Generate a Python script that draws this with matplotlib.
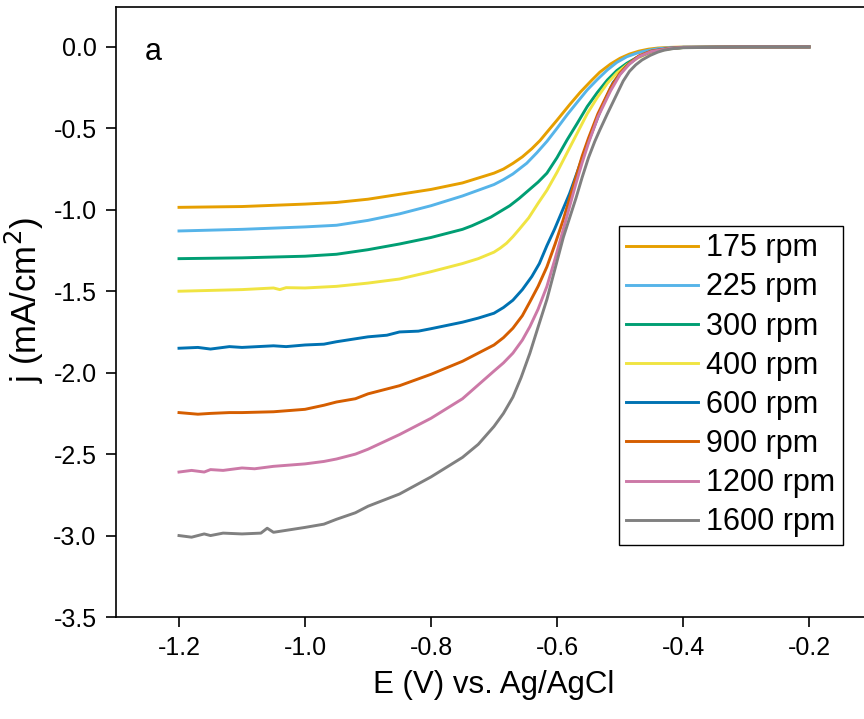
import matplotlib
matplotlib.use('Agg')
import matplotlib.pyplot as plt

plt.rcParams['font.family'] = ['Liberation Sans', 'DejaVu Sans']

# ---- data (E in V vs. Ag/AgCl, j in mA/cm2) ----
labels = ['175 rpm', '225 rpm', '300 rpm', '400 rpm',
          '600 rpm', '900 rpm', '1200 rpm', '1600 rpm']
colors = ['#E69F00', '#56B4E9', '#009E73', '#F0E442',
          '#0072B2', '#D55E00', '#CC79A7', '#808080']

e_175 = [-1.2, -1.1, -1.0, -0.95, -0.9, -0.85, -0.8, -0.775, -0.75, -0.725,
         -0.7, -0.685, -0.67, -0.655, -0.64, -0.627, -0.613, -0.6, -0.58,
         -0.563, -0.545, -0.532, -0.515, -0.5, -0.485, -0.47, -0.455, -0.44,
         -0.42, -0.4, -0.3, -0.2]
j_175 = [-0.985, -0.98, -0.965, -0.955, -0.935, -0.905, -0.875, -0.855, -0.835,
         -0.805, -0.775, -0.75, -0.715, -0.675, -0.625, -0.575, -0.51, -0.45,
         -0.355, -0.278, -0.205, -0.155, -0.105, -0.07, -0.044, -0.026, -0.014,
         -0.007, -0.003, -0.001, 0.0, 0.0]

e_225 = [-1.2, -1.1, -1.0, -0.95, -0.9, -0.85, -0.8, -0.775, -0.75, -0.725,
         -0.7, -0.685, -0.67, -0.66, -0.648, -0.632, -0.616, -0.6, -0.584,
         -0.568, -0.552, -0.536, -0.52, -0.505, -0.489, -0.473, -0.457, -0.44,
         -0.42, -0.4, -0.3, -0.2]
j_225 = [-1.13, -1.12, -1.105, -1.095, -1.065, -1.025, -0.975, -0.945, -0.915,
         -0.88, -0.845, -0.815, -0.78, -0.75, -0.714, -0.65, -0.58, -0.5,
         -0.417, -0.34, -0.264, -0.2, -0.141, -0.095, -0.06, -0.038, -0.022,
         -0.011, -0.005, -0.002, 0.0, 0.0]

e_300 = [-1.2, -1.1, -1.0, -0.95, -0.9, -0.85, -0.8, -0.775, -0.75, -0.735,
         -0.72, -0.705, -0.69, -0.675, -0.66, -0.645, -0.63, -0.616, -0.6,
         -0.584, -0.568, -0.552, -0.536, -0.52, -0.505, -0.489, -0.473, -0.457,
         -0.44, -0.425, -0.4, -0.3, -0.2]
j_300 = [-1.3, -1.295, -1.285, -1.273, -1.245, -1.21, -1.17, -1.145, -1.12,
         -1.098, -1.072, -1.045, -1.01, -0.975, -0.93, -0.88, -0.83, -0.775,
         -0.68, -0.571, -0.47, -0.366, -0.28, -0.203, -0.145, -0.1, -0.065,
         -0.039, -0.022, -0.012, -0.004, 0.0, 0.0]

e_400 = [-1.2, -1.15, -1.1, -1.05, -1.04, -1.03, -1.0, -0.95, -0.9, -0.85,
         -0.8, -0.75, -0.725, -0.7, -0.69, -0.68, -0.67, -0.66, -0.645, -0.63,
         -0.616, -0.6, -0.584, -0.568, -0.552, -0.536, -0.52, -0.505, -0.489,
         -0.473, -0.457, -0.44, -0.42, -0.4, -0.3, -0.2]
j_400 = [-1.5, -1.495, -1.49, -1.48, -1.49, -1.478, -1.48, -1.47, -1.45,
         -1.425, -1.38, -1.33, -1.3, -1.26, -1.235, -1.205, -1.165, -1.12,
         -1.05, -0.96, -0.88, -0.77, -0.65, -0.53, -0.41, -0.31, -0.223,
         -0.16, -0.11, -0.07, -0.043, -0.024, -0.011, -0.004, 0.0, 0.0]

e_600 = [-1.2, -1.17, -1.15, -1.12, -1.1, -1.05, -1.03, -1.0, -0.97, -0.95,
         -0.9, -0.87, -0.85, -0.82, -0.8, -0.75, -0.725, -0.7, -0.685, -0.67,
         -0.655, -0.64, -0.628, -0.616, -0.604, -0.592, -0.58, -0.568, -0.556,
         -0.545, -0.53, -0.511, -0.49, -0.473, -0.45, -0.42, -0.4, -0.3, -0.2]
j_600 = [-1.85, -1.845, -1.855, -1.84, -1.845, -1.835, -1.84, -1.83, -1.825,
         -1.81, -1.78, -1.77, -1.75, -1.745, -1.73, -1.69, -1.665, -1.635,
         -1.6, -1.555, -1.49, -1.41, -1.33, -1.22, -1.12, -1.01, -0.9, -0.77,
         -0.64, -0.53, -0.38, -0.22, -0.12, -0.065, -0.027, -0.009, -0.003,
         0.0, 0.0]

e_900 = [-1.2, -1.17, -1.15, -1.12, -1.1, -1.05, -1.0, -0.97, -0.95, -0.92,
         -0.9, -0.85, -0.8, -0.75, -0.7, -0.685, -0.67, -0.655, -0.643, -0.63,
         -0.616, -0.603, -0.59, -0.58, -0.57, -0.56, -0.55, -0.535, -0.515,
         -0.5, -0.485, -0.47, -0.45, -0.42, -0.4, -0.3, -0.2]
j_900 = [-2.245, -2.255, -2.25, -2.245, -2.245, -2.24, -2.225, -2.2, -2.18,
         -2.16, -2.13, -2.08, -2.01, -1.93, -1.83, -1.785, -1.727, -1.65,
         -1.565, -1.47, -1.35, -1.21, -1.06, -0.93, -0.8, -0.67, -0.56, -0.41,
         -0.25, -0.16, -0.1, -0.055, -0.025, -0.008, -0.003, 0.0, 0.0]

e_1200 = [-1.2, -1.18, -1.16, -1.15, -1.13, -1.1, -1.08, -1.05, -1.0, -0.97,
          -0.95, -0.92, -0.9, -0.85, -0.8, -0.75, -0.7, -0.685, -0.67, -0.655,
          -0.643, -0.63, -0.616, -0.603, -0.59, -0.58, -0.57, -0.56, -0.55,
          -0.535, -0.515, -0.5, -0.485, -0.47, -0.45, -0.42, -0.4, -0.3, -0.2]
j_1200 = [-2.61, -2.6, -2.61, -2.595, -2.6, -2.585, -2.59, -2.575, -2.56,
          -2.545, -2.53, -2.5, -2.47, -2.38, -2.28, -2.16, -1.99, -1.94, -1.88,
          -1.8, -1.717, -1.61, -1.47, -1.3, -1.12, -0.98, -0.84, -0.71, -0.59,
          -0.43, -0.27, -0.17, -0.105, -0.06, -0.028, -0.009, -0.003, 0.0, 0.0]

e_1600 = [-1.2, -1.18, -1.16, -1.15, -1.13, -1.1, -1.07, -1.06, -1.05, -1.0,
          -0.97, -0.95, -0.92, -0.9, -0.85, -0.8, -0.75, -0.725, -0.7, -0.685,
          -0.67, -0.657, -0.643, -0.63, -0.616, -0.603, -0.59, -0.58, -0.57,
          -0.56, -0.55, -0.54, -0.532, -0.52, -0.51, -0.495, -0.485, -0.475,
          -0.465, -0.452, -0.44, -0.43, -0.415, -0.4, -0.3, -0.2]
j_1600 = [-3.0, -3.01, -2.99, -3.0, -2.985, -2.99, -2.985, -2.955, -2.98,
          -2.95, -2.93, -2.9, -2.86, -2.82, -2.745, -2.64, -2.52, -2.44, -2.33,
          -2.25, -2.15, -2.03, -1.88, -1.72, -1.55, -1.36, -1.17, -1.05, -0.93,
          -0.8, -0.68, -0.58, -0.51, -0.41, -0.33, -0.21, -0.15, -0.11, -0.08,
          -0.052, -0.032, -0.02, -0.01, -0.005, 0.0, 0.0]

e_all = [e_175, e_225, e_300, e_400, e_600, e_900, e_1200, e_1600]
j_all = [j_175, j_225, j_300, j_400, j_600, j_900, j_1200, j_1600]

x_ticks = [-1.2, -1.0, -0.8, -0.6, -0.4, -0.2]
y_ticks = [0.0, -0.5, -1.0, -1.5, -2.0, -2.5, -3.0, -3.5]

fig = plt.figure(figsize=(8.64, 7.19), dpi=100)
# right spine sits just past the image edge, as in the reference crop
ax = fig.add_axes([116 / 864, 102 / 719, 756 / 864, 610 / 719])

for e, j, lab, c in zip(e_all, j_all, labels, colors):
    ax.plot(e, j, color=c, lw=2.1, label=lab, solid_joinstyle='round')

ax.set_xlim(-1.3, -0.1)
ax.set_ylim(-3.5, 0.245)
ax.set_xticks(x_ticks)
ax.set_xticklabels([f'{t:.1f}' for t in x_ticks])
ax.set_yticks(y_ticks)
ax.set_yticklabels([f'{t:.1f}' for t in y_ticks])
ax.tick_params(direction='out', length=7, width=1.2, labelsize=18, pad=7)
for sp in ax.spines.values():
    sp.set_linewidth(1.2)

ax.set_xlabel('E (V) vs. Ag/AgCl', fontsize=22.5, labelpad=7)
ax.set_ylabel('j (mA/cm$^2$)', fontsize=25)
ax.yaxis.set_label_coords(-0.093, 0.52)

ax.text(0.038, 0.95, 'a', transform=ax.transAxes, fontsize=22,
        ha='left', va='top')

leg = ax.legend(loc='upper left', bbox_to_anchor=(0.665, 0.641),
                borderaxespad=0, fontsize=22, frameon=True, fancybox=False,
                handlelength=2.35, handletextpad=0.28, labelspacing=0.30,
                borderpad=0.24)
leg.get_frame().set_edgecolor('black')
leg.get_frame().set_linewidth(1.0)
leg.get_frame().set_alpha(1)

plt.savefig('out.png', dpi=100)
